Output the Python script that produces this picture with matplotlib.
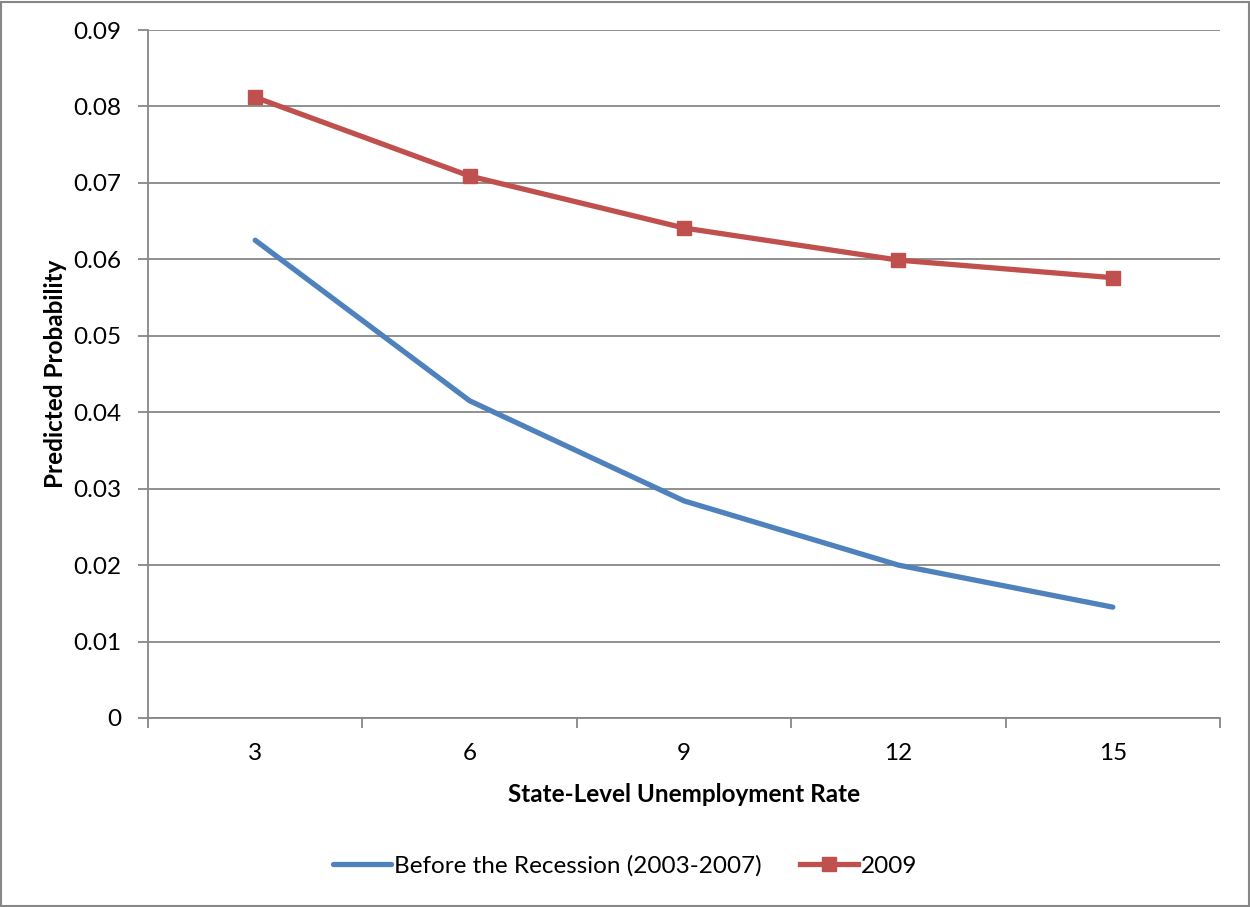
import matplotlib
matplotlib.use("Agg")
import matplotlib.pyplot as plt
from matplotlib.patches import Rectangle
from matplotlib.ticker import FixedLocator

plt.rcParams['font.family'] = ['Lato', 'DejaVu Sans']

unemployment = ["3", "6", "9", "12", "15"]
before_recession = [0.0625, 0.0415, 0.0284, 0.0200, 0.0145]
year_2009 = [0.0812, 0.0709, 0.0641, 0.0599, 0.0576]
y_ticks = [0.00, 0.01, 0.02, 0.03, 0.04, 0.05, 0.06, 0.07, 0.08, 0.09]
y_tick_labels = ["0", "0.01", "0.02", "0.03", "0.04", "0.05", "0.06", "0.07", "0.08", "0.09"]

blue = "#4F81BD"
red = "#C0504D"
grid_gray = "#878787"
fs = 17.5

fig = plt.figure(figsize=(12.5, 9.07), dpi=100)
fig.patches.append(Rectangle((0.001, 0.001), 0.998, 0.997, transform=fig.transFigure,
                             fill=False, edgecolor=grid_gray, linewidth=1.5))

ax = fig.add_axes([0.1184, 0.2084, 0.8576, 0.7585])
x = list(range(len(unemployment)))

ax.plot(x, before_recession, color=blue, linewidth=3.8, solid_capstyle='round',
        label="Before the Recession (2003-2007)", zorder=3)
ax.plot(x, year_2009, color=red, linewidth=3.8, marker='s', markersize=10,
        markerfacecolor=red, markeredgecolor=red, label="2009", zorder=3)

ax.set_xlim(-0.5, len(unemployment) - 0.5)
ax.set_ylim(0, 0.09)
ax.set_yticks(y_ticks)
ax.set_yticklabels(y_tick_labels)
ax.set_xticks(x)
ax.set_xticklabels(unemployment)
ax.xaxis.set_minor_locator(FixedLocator([i - 0.5 for i in range(len(unemployment) + 1)]))

ax.grid(axis='y', color=grid_gray, linewidth=1.3)
ax.set_axisbelow(True)
for side in ['top', 'right']:
    ax.spines[side].set_visible(False)
for side in ['left', 'bottom']:
    ax.spines[side].set_color(grid_gray)
    ax.spines[side].set_linewidth(1.3)

ax.tick_params(axis='y', which='major', length=7, width=1.3, color=grid_gray,
               labelsize=fs, pad=12)
ax.tick_params(axis='x', which='major', length=0, labelsize=fs, pad=18)
ax.tick_params(axis='x', which='minor', length=7, width=1.3, color=grid_gray)

ax.set_xlabel("State-Level Unemployment Rate", fontsize=fs, fontweight='bold', labelpad=14)
ax.set_ylabel("Predicted Probability", fontsize=fs, fontweight='bold', labelpad=5)

fig.legend(loc='center', bbox_to_anchor=(0.5, 0.045), ncol=2, frameon=False,
           fontsize=fs, handlelength=2.4, handletextpad=0.1, columnspacing=1.6)

fig.savefig("out.png", dpi=100, facecolor='white')
